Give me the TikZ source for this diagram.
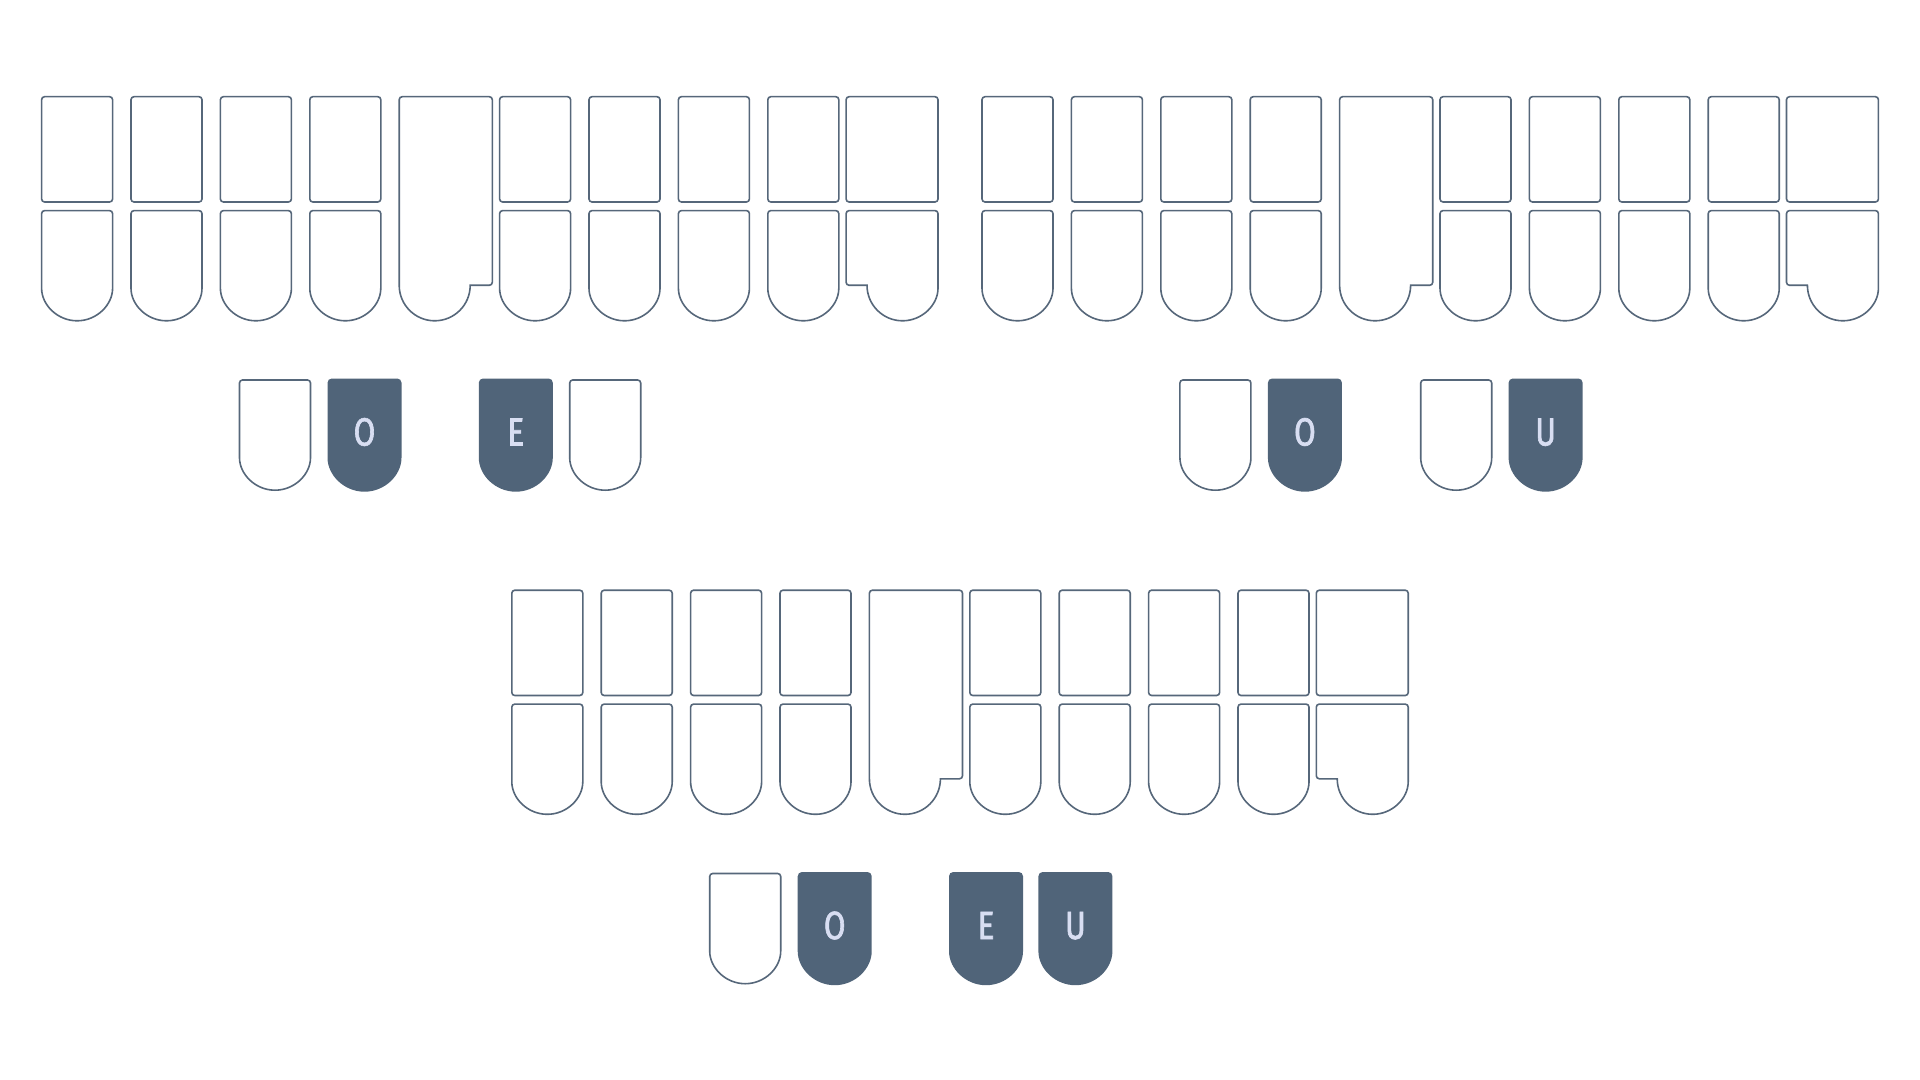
\documentclass[tikz,border=0pt]{standalone}
\usepackage{fontspec}
\newfontfamily\keyfont[FakeStretch=0.8,FakeBold=1.6]{Fira Sans}
\definecolor{keyedge}{HTML}{56677A}
\definecolor{keyfill}{HTML}{506479}
\definecolor{keytext}{HTML}{D8DEF2}
\tikzset{
  keyoff/.style={draw=keyedge,line width=0.8pt,fill=white,rounded corners=1.5pt},
  keyon/.style={draw=keyfill,fill=keyfill,line width=1.5pt,rounded corners=1.5pt},
  keylbl/.style={text=keytext,font=\keyfont\fontsize{19.6}{20}\selectfont,inner sep=0pt,anchor=base}
}
% lower key: style, left x, top y
\newcommand{\lowkey}[3]{%
  \path[#1] (#2,#3+74.7) -- (#2,#3) -- (#2+71,#3) -- (#2+71,#3+74.7)
    arc[start angle=0,end angle=180,radius=35.5] -- cycle;}
% lit vowel key: left x, node name, letter
\newcommand{\vowelon}[3]{%
  \lowkey{keyon}{#1}{380}
  \node[keylbl] (#2) at (#1+35.5,445.5) {#3};}
% one stroke board at offset
\newcommand{\stenoboard}[2]{%
  \begin{scope}[shift={(#1,#2)}]
    % left bank
    \foreach \i in {0,...,3} {
      \pgfmathsetmacro\kx{41.6+89.4*\i}
      \draw[keyoff] (\kx,96.7) rectangle ++(71,105.3);
      \lowkey{keyoff}{\kx}{210.6}
    }
    % star key
    \draw[keyoff] (399.2,285.3) -- (399.2,96.7) -- (492.3,96.7) -- (492.3,285.3) [sharp corners] -- (470.2,285.3)
      arc[start angle=0,end angle=180,radius=35.5] -- cycle;
    % right bank
    \foreach \i in {0,...,3} {
      \pgfmathsetmacro\kx{499.6+89.4*\i}
      \draw[keyoff] (\kx,96.7) rectangle ++(71,105.3);
      \lowkey{keyoff}{\kx}{210.6}
    }
    % last column
    \draw[keyoff] (846.1,96.7) rectangle (938,202);
    \draw[keyoff] (867,285.3) -- (846.1,285.3) -- (846.1,210.6) -- (938,210.6) -- (938,285.3)
      [sharp corners] arc[start angle=0,end angle=180,radius=35.5] -- cycle;
  \end{scope}}

\begin{document}
\begin{tikzpicture}[x=0.5pt,y=-0.5pt]
  \fill[white] (0,0) rectangle (1920,1080);
  \useasboundingbox (0,0) rectangle (1920,1080);

  % Stroke 1
  \stenoboard{0}{0}
  \begin{scope}[shift={(0,0)}]
    \lowkey{keyoff}{239.5}{380}
    \vowelon{329}{o1}{O}
    \vowelon{480.3}{e1}{E}
    \lowkey{keyoff}{569.7}{380}
  \end{scope}

  % Stroke 2
  \stenoboard{940.4}{0}
  \begin{scope}[shift={(940.4,0)}]
    \lowkey{keyoff}{239.5}{380}
    \vowelon{329}{o2}{O}
    \lowkey{keyoff}{480.3}{380}
    \vowelon{569.7}{u2}{U}
  \end{scope}

  % Stroke 3
  \stenoboard{470.2}{493.5}
  \begin{scope}[shift={(470.2,493.5)}]
    \lowkey{keyoff}{239.5}{380}
    \vowelon{329}{o3}{O}
    \vowelon{480.3}{e3}{E}
    \vowelon{569.7}{u3}{U}
  \end{scope}

\end{tikzpicture}
\end{document}
